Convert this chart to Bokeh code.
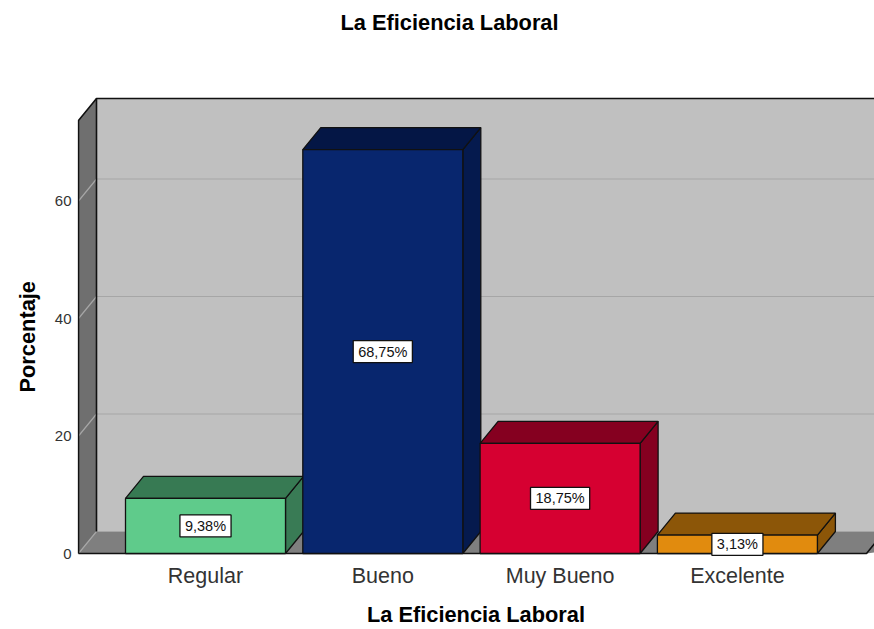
from bokeh.plotting import figure
from bokeh.models import Range1d, FixedTicker, Title
from bokeh.embed import file_html
from bokeh.resources import INLINE

# --- data ---
title_text = "La Eficiencia Laboral"
x_title = "La Eficiencia Laboral"
y_title = "Porcentaje"
categories = ["Regular", "Bueno", "Muy Bueno", "Excelente"]
percentages = [9.38, 68.75, 18.75, 3.13]
value_labels = ["9,38%", "68,75%", "18,75%", "3,13%"]
y_ticks = [0, 20, 40, 60]
front_colors = ["#5FCB8B", "#08266E", "#D60031", "#E18B0E"]
top_colors = ["#377A53", "#041645", "#850020", "#8C5608"]
side_colors = ["#397B55", "#051A4E", "#850020", "#8C5608"]

# --- geometry in data units ---
PX_X = 177.3
PX_Y = 5.875
DX = 18 / PX_X
DY = 22 / PX_Y
BAR_W = 160 / PX_X
WALL_L = (78 - 205) / PX_X
FLOOR_R = (866 - 205) / PX_X
WALL_TOP = (553 - 98) / PX_Y - DY
X_END = (874 - 205) / PX_X
FONT = "Liberation Sans"
FRAME_LEFT = 77
FRAME_BOTTOM = 556

p = figure(width=874, height=629, output_backend="svg", toolbar_location=None,
           x_range=Range1d(WALL_L - (78 - FRAME_LEFT) / PX_X, X_END),
           y_range=Range1d(-(FRAME_BOTTOM - 553) / PX_Y, (553 - 96) / PX_Y),
           min_border_left=FRAME_LEFT, min_border_right=0, min_border_top=96,
           min_border_bottom=629 - FRAME_BOTTOM)
p.outline_line_color = None
p.grid.visible = False
p.background_fill_color = "white"

# back wall, floor, left wall
back_l = WALL_L + DX
far_r = X_END + 1
p.patch([back_l, far_r, far_r, back_l], [DY, DY, WALL_TOP + DY, WALL_TOP + DY],
        fill_color="#C0C0C0", line_color=None)
p.patch([WALL_L, back_l, far_r, FLOOR_R], [0, DY, DY, 0], fill_color="#7F7F7F", line_color=None)
p.patch([WALL_L, back_l, back_l, WALL_L], [0, DY, WALL_TOP + DY, WALL_TOP],
        fill_color="#6F6F6F", line_color=None)

# gridlines on back and left walls
for t in y_ticks:
    p.line([WALL_L, back_l, far_r], [t, t + DY, t + DY], line_color="#A6A6A6", line_width=1.2)

# wall edges
p.line([WALL_L, WALL_L, back_l, far_r], [0, WALL_TOP, WALL_TOP + DY, WALL_TOP + DY],
       line_color="#111111", line_width=1.6)
p.line([back_l, back_l], [DY, WALL_TOP + DY], line_color="#111111", line_width=1.6)
p.line([WALL_L, FLOOR_R, FLOOR_R + DX], [0, 0, DY], line_color="#111111", line_width=1.6)

# 3D bars
for i, v in enumerate(percentages):
    l, r = i - BAR_W / 2, i + BAR_W / 2
    p.patch([r, r + DX, r + DX, r], [0, DY, v + DY, v], fill_color=side_colors[i],
            line_color="#111111", line_width=1.3)
    p.patch([l, l + DX, r + DX, r], [v, v + DY, v + DY, v], fill_color=top_colors[i],
            line_color="#111111", line_width=1.3)
    p.quad(left=l, right=r, bottom=0, top=v, fill_color=front_colors[i],
           line_color="#111111", line_width=1.3)

# value labels
p.text(x=list(range(len(categories))), y=[v / 2 for v in percentages], text=value_labels,
       text_align="center", text_baseline="middle", text_color="#111111",
       text_font={"value": FONT}, text_font_size={"value": "14.5px"},
       background_fill_color="white", border_line_color="#111111", border_line_width=1.3,
       padding=(5, 3))

# axes
p.xaxis.ticker = FixedTicker(ticks=list(range(len(categories))))
p.xaxis.major_label_overrides = {i: c for i, c in enumerate(categories)}
p.xaxis.major_label_text_font = FONT
p.xaxis.major_label_text_font_size = "21.5px"
p.xaxis.major_label_text_color = "#333333"
p.xaxis.major_label_standoff = 1
p.xaxis.axis_label = x_title
p.xaxis.axis_label_standoff = 11
p.xaxis.axis_label_text_font = FONT
p.xaxis.axis_label_text_font_size = "21.8px"
p.xaxis.axis_label_text_font_style = "bold"
p.xaxis.axis_label_text_color = "#000000"
p.yaxis.ticker = FixedTicker(ticks=y_ticks)
p.yaxis.major_label_text_font = FONT
p.yaxis.major_label_text_font_size = "15px"
p.yaxis.major_label_text_color = "#333333"
p.yaxis.major_label_standoff = 0
for ax in (p.xaxis, p.yaxis):
    ax.axis_line_color = None
    ax.major_tick_line_color = None
    ax.minor_tick_line_color = None

# title, with an empty spacer panel keeping it well above the frame
p.title.text = title_text
p.title.text_font = FONT
p.title.text_font_size = "21.8px"
p.title.text_font_style = "bold"
p.title.text_color = "#000000"
p.title.align = "left"
p.title.offset = 340 - FRAME_LEFT
p.title.standoff = 14
p.add_layout(Title(text=" ", text_font=FONT, text_font_size="21.8px", standoff=28), "above")

p.add_layout(Title(text=y_title, align="left", offset=FRAME_BOTTOM - 392, standoff=24,
                   text_font=FONT, text_font_size="21.8px", text_font_style="bold",
                   text_color="#000000"), "left")

open("out.html", "w").write(file_html(p, INLINE))
